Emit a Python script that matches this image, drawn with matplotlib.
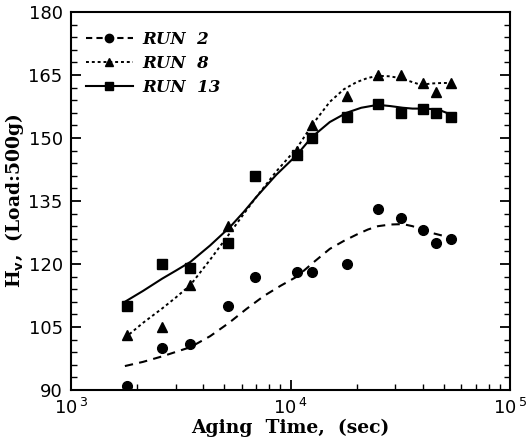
import matplotlib
matplotlib.use("Agg")
import matplotlib.pyplot as plt
from matplotlib.ticker import LogLocator, MultipleLocator, FixedLocator

# Measured data
t_all = [1800, 2600, 3500, 5200, 6900, 10700, 12500, 18000, 25000, 32000, 40000, 46000, 54000]
run2_y = [91, 100, 101, 110, 117, 118, 118, 120, 133, 131, 128, 125, 126]
run13_y = [110, 120, 119, 125, 141, 146, 150, 155, 158, 156, 157, 156, 155]
t_run8 = [1800, 2600, 3500, 5200, 10700, 12500, 18000, 25000, 32000, 40000, 46000, 54000]
run8_y = [103, 105, 115, 129, 147, 153, 160, 165, 165, 163, 161, 163]

# Fitted curves
fit2_x = [1760, 2130, 2600, 3500, 4300, 5250, 6300, 7570, 9000, 10700, 12800, 15100, 17500, 20000, 22500, 25000, 28500, 32500, 36000, 40000, 44000, 48000, 54400]
fit2_y = [95.7, 96.7, 98.0, 100.2, 102.8, 106.0, 109.3, 112.4, 114.8, 117.0, 120.5, 123.6, 125.5, 127.0, 128.2, 129.0, 129.4, 129.5, 129.0, 128.0, 127.4, 126.9, 126.2]
fit8_x = [1760, 2130, 2600, 3000, 3500, 4300, 5300, 6100, 7000, 8600, 10700, 12500, 15100, 17500, 20000, 22500, 25000, 28000, 31500, 35000, 38000, 41000, 44600, 49000, 54400]
fit8_y = [102.4, 106.0, 109.4, 112.0, 115.0, 121.0, 127.4, 131.8, 136.0, 142.0, 147.6, 153.0, 158.6, 161.6, 163.3, 164.3, 164.8, 164.7, 164.3, 163.5, 162.9, 162.8, 163.0, 163.1, 163.1]
fit13_x = [1760, 2130, 2600, 3000, 3500, 4300, 5300, 6100, 7000, 8600, 10700, 12500, 15100, 18000, 21000, 25000, 28500, 32500, 36000, 40000, 44000, 48000, 54400]
fit13_y = [111.0, 113.6, 116.5, 118.4, 120.5, 124.4, 128.8, 132.3, 136.0, 141.2, 146.0, 150.2, 153.8, 156.0, 157.2, 157.9, 157.6, 157.2, 157.0, 157.0, 156.9, 156.6, 155.5]

legend_labels = ["RUN  2", "RUN  8", "RUN  13"]
xticks = [1e3, 1e4, 1e5]
xticklabels = [r"10$^{\,3}$", r"10$^{\,4}$", r"10$^{\,5}$"]
yticks = [90, 105, 120, 135, 150, 165, 180]

fig = plt.figure(figsize=(5.28, 4.42), dpi=100)
ax = fig.add_axes([71/528, 52/442, (510-71)/528, (390-12)/442])

k = "black"
ax.plot(fit2_x, fit2_y, color=k, lw=1.5, ls=(0, (4, 3)))
ax.plot(fit8_x, fit8_y, color=k, lw=1.4, ls=(0, (1.5, 1.5)))
ax.plot(fit13_x, fit13_y, color=k, lw=1.5, ls="-")

ax.plot(t_all, run2_y, "o", color=k, ms=7, ls="none")
ax.plot(t_run8, run8_y, "^", color=k, ms=7, ls="none")
ax.plot(t_all, run13_y, "s", color=k, ms=7, ls="none")

# legend proxies
h2, = ax.plot([], [], color=k, lw=1.5, ls=(0, (3, 2)), marker="o", ms=6)
h8, = ax.plot([], [], color=k, lw=1.4, ls=(0, (1.5, 1.5)), marker="^", ms=6)
h13, = ax.plot([], [], color=k, lw=1.5, ls="-", marker="s", ms=6)
leg = ax.legend([h2, h8, h13], legend_labels, loc="upper left", frameon=False,
                bbox_to_anchor=(0.0, 0.99), handlelength=2.8, handletextpad=0.6,
                labelspacing=0.42,
                prop={"family": "DejaVu Serif", "style": "italic", "weight": "bold", "size": 12})

ax.set_xscale("log")
ax.set_xlim(1e3, 1e5)
ax.set_ylim(90, 180)
ax.xaxis.set_major_locator(FixedLocator(xticks))
ax.set_xticklabels(xticklabels)
ax.xaxis.set_minor_locator(LogLocator(base=10, subs=range(2, 10)))
ax.yaxis.set_major_locator(FixedLocator(yticks))
ax.yaxis.set_minor_locator(MultipleLocator(3))

for lab in ax.get_xticklabels() + ax.get_yticklabels():
    lab.set_fontfamily("DejaVu Sans")
    lab.set_fontsize(13)

ax.tick_params(axis="both", which="major", direction="in", length=7, width=1.3, pad=6)
ax.tick_params(axis="both", which="minor", direction="in", length=4, width=1.0)
ax.tick_params(axis="y", which="both", right=True)
for s in ax.spines.values():
    s.set_linewidth(1.5)

ax.set_xlabel("Aging  Time,  (sec)", family="DejaVu Serif", weight="bold", fontsize=13.5, labelpad=0)
ax.set_ylabel(r"H$_{\mathbf{v}}$,  (Load:500g)", family="DejaVu Serif", weight="bold", fontsize=13.5, labelpad=2)

fig.savefig("out.png", dpi=100)
